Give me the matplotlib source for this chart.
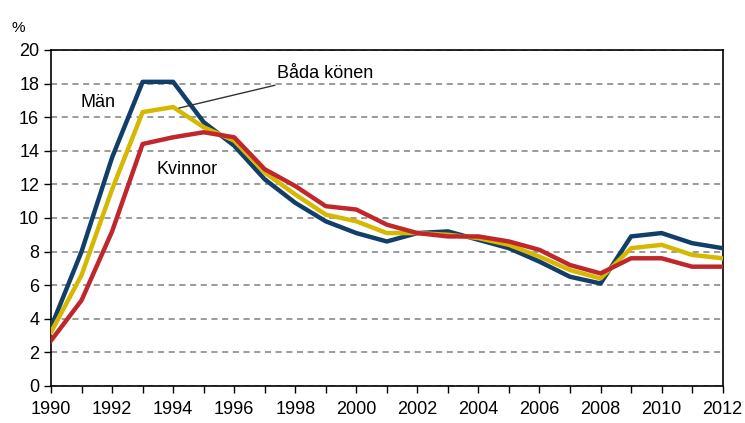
import matplotlib.pyplot as plt

years = list(range(1990, 2013))
man = [3.5, 8.0, 13.6, 18.1, 18.1, 15.7, 14.3, 12.3, 10.9, 9.8, 9.1, 8.6,
       9.1, 9.2, 8.7, 8.2, 7.4, 6.5, 6.1, 8.9, 9.1, 8.5, 8.2]
bada = [3.2, 6.6, 11.7, 16.3, 16.6, 15.4, 14.6, 12.7, 11.4, 10.2, 9.8, 9.1,
        9.1, 9.0, 8.8, 8.4, 7.7, 6.9, 6.4, 8.2, 8.4, 7.8, 7.6]
kvinnor = [2.7, 5.1, 9.2, 14.4, 14.8, 15.1, 14.8, 12.9, 11.9, 10.7, 10.5, 9.6,
           9.1, 8.9, 8.9, 8.6, 8.1, 7.2, 6.7, 7.6, 7.6, 7.1, 7.1]

plt.rcParams['font.family'] = ['Liberation Sans', 'DejaVu Sans']

fig = plt.figure(figsize=(7.45, 4.23), dpi=100)
ax = fig.add_axes([0.0685, 0.0875, 0.9015, 0.7945])

ax.plot(years, man, color="#123e6a", linewidth=3.2, zorder=3)
ax.plot(years, bada, color="#d6b800", linewidth=3.2, zorder=3)
ax.plot(years, kvinnor, color="#c0272d", linewidth=3.2, zorder=3)

ax.set_xlim(1990, 2012)
ax.set_ylim(0, 20)
ax.set_xticks(range(1990, 2013, 2))
ax.set_xticks(years, minor=True)
ax.set_yticks(range(0, 21, 2))
ax.yaxis.grid(True, linestyle=(0, (4, 3)), color="#808080", linewidth=1.1)
ax.set_axisbelow(True)
ax.tick_params(axis="both", which="both", direction="out", length=5, width=1,
               labelsize=13, colors="black")
ax.tick_params(axis="x", pad=6)
for s in ax.spines.values():
    s.set_linewidth(1.2)

ax.text(1990.95, 16.6, "Män", fontsize=13)
ax.text(1993.45, 12.6, "Kvinnor", fontsize=13)
ax.annotate("Båda könen", xy=(1994.1, 16.5), xytext=(1997.4, 18.1),
            fontsize=13, arrowprops=dict(arrowstyle="-", color="#333333", lw=1),
            ha="left", va="bottom")
fig.text(0.016, 0.925, "%", fontsize=11)

fig.savefig("out.png", dpi=100)
